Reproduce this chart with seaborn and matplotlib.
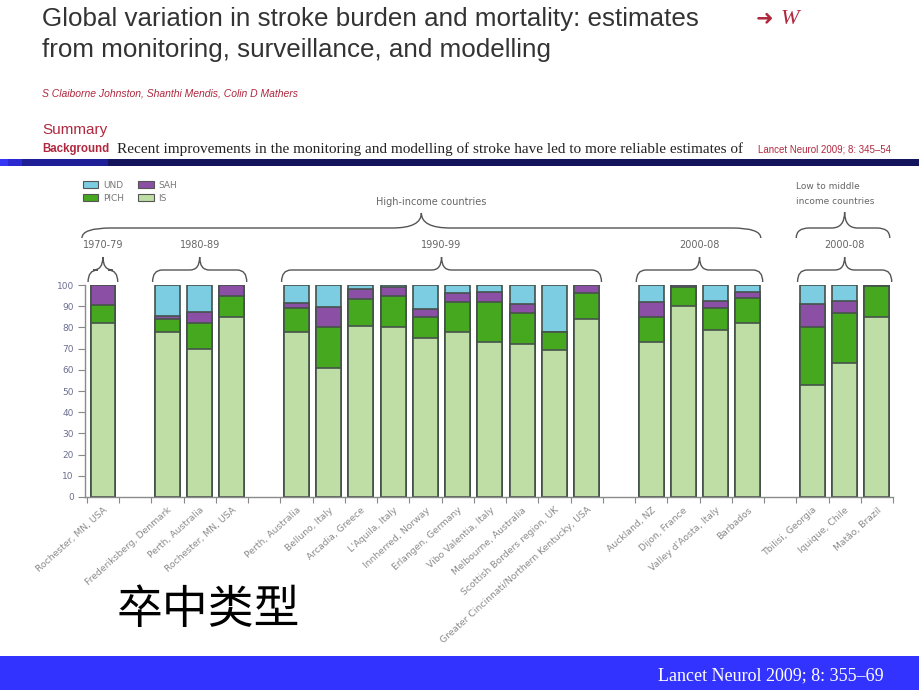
import numpy as np
import pandas as pd
import matplotlib
matplotlib.use("Agg")
import matplotlib.pyplot as plt
import seaborn as sns
from matplotlib.patches import Rectangle, PathPatch, Patch
from matplotlib.path import Path

# ---------------- data ----------------
sites = ["Rochester, MN, USA",
         "Frederiksberg, Denmark", "Perth, Australia", "Rochester, MN, USA",
         "Perth, Australia", "Belluno, Italy", "Arcadia, Greece", "L'Aquila, Italy",
         "Innherred, Norway", "Erlangen, Germany", "Vibo Valentia, Italy",
         "Melbourne, Australia", "Scottish Borders region, UK",
         "Greater Cincinnati/Northern Kentucky, USA",
         "Auckland, NZ", "Dijon, France", "Valley d'Aosta, Italy", "Barbados",
         "Tbilisi, Georgia", "Iquique, Chile", "Matão, Brazil"]
group_sizes = [1, 3, 10, 4, 3]
group_labels = ["1970-79", "1980-89", "1990-99", "2000-08", "2000-08"]
IS   = [82, 78, 70, 85, 78, 61, 80.5, 80, 75, 78, 73, 72, 69.5, 84, 73, 90, 79, 82, 53, 63, 85]
PICH = [8.5, 6, 12, 10, 11, 19, 13, 15, 10, 14, 19, 15, 8.5, 12, 12, 9, 10, 12, 27, 24, 14.5]
SAH  = [9.5, 1.5, 5.5, 5, 2.5, 9.5, 4.5, 4, 3.5, 4, 4.5, 4, 0, 4, 7, 1, 3.5, 2.5, 11, 5.5, 0.5]
UND  = [0, 14.5, 12.5, 0, 8.5, 10.5, 2, 1, 11.5, 4, 3.5, 9, 22, 0, 8, 0, 7.5, 3.5, 9, 7.5, 0]
yticks = list(range(0, 101, 10))

colors = {"UND": "#7ccde2", "SAH": "#8c4fa6", "PICH": "#45a81e", "IS": "#bfdea6"}
edge = "#45524a"

# slot positions: groups separated by one empty slot
pos = []
s = 0
group_spans = []
for g in group_sizes:
    group_spans.append((s, s + g - 1))
    pos.extend(range(s, s + g))
    s += g + 1
pos = np.array(pos, dtype=float)

df = pd.DataFrame({"pos": pos, "IS": IS, "PICH": PICH, "SAH": SAH, "UND": UND})
df["c_PICH"] = df["IS"] + df["PICH"]
df["c_SAH"] = df["c_PICH"] + df["SAH"]
df["c_UND"] = df["c_SAH"] + df["UND"]

# ---------------- figure ----------------
sns.set_style("white")
plt.rcParams["font.family"] = ["DejaVu Sans"]
W, H = 920, 690
fig = plt.figure(figsize=(9.2, 6.9), dpi=100)

def fx(x):
    return x / W

def fy(y):
    return 1 - y / H

narrow = ["Liberation Sans"]
red = "#b0283e"

# header (paper excerpt)
fig.text(fx(42), fy(19), "Global variation in stroke burden and mortality: estimates",
         family=narrow, fontsize=18.7, color="#333333", va="center", ha="left")
fig.text(fx(42), fy(50), "from monitoring, surveillance, and modelling",
         family=narrow, fontsize=18.7, color="#333333", va="center", ha="left")
fig.text(fx(42), fy(93), "S Claiborne Johnston, Shanthi Mendis, Colin D Mathers",
         family=narrow, fontsize=7.5, color=red, style="italic", va="center")
fig.text(fx(42), fy(130), "Summary", family=narrow, fontsize=11, color=red, va="center")
fig.text(fx(42), fy(149), "Background", family=narrow, fontsize=8.3, color=red,
         weight="bold", va="center")
fig.text(fx(117), fy(149),
         "Recent improvements in the monitoring and modelling of stroke have led to more reliable estimates of",
         family=["Liberation Serif"], fontsize=11, color="#222222", va="center")
fig.text(fx(758), fy(150), "Lancet Neurol 2009; 8: 345–54", family=narrow,
         fontsize=7, color=red, va="center")
fig.text(fx(756), fy(18), "➜", fontsize=15, color=red, va="center", weight="bold")
fig.text(fx(781), fy(19), "W", fontsize=16, color=red, va="center", style="italic",
         family=["Liberation Serif"])

# stripe
fig.add_artist(Rectangle((0, fy(166)), 1, 7 / H, transform=fig.transFigure,
                         color="#14145c", lw=0))
fig.add_artist(Rectangle((0, fy(166)), fx(108), 7 / H, transform=fig.transFigure,
                         color="#1e1e96", lw=0))
fig.add_artist(Rectangle((0, fy(166)), fx(22), 7 / H, transform=fig.transFigure,
                         color="#2a2ad0", lw=0))
fig.add_artist(Rectangle((0, fy(166)), fx(8), 7 / H, transform=fig.transFigure,
                         color="#3535f5", lw=0))

# ---------------- chart ----------------
ax = fig.add_axes([fx(85), fy(497), 808 / W, 212 / H])
layers = [("UND", "c_UND"), ("SAH", "c_SAH"), ("PICH", "c_PICH"), ("IS", "IS")]
for name, col in layers:
    sns.barplot(data=df, x="pos", y=col, native_scale=True, orient="x",
                color=colors[name], saturation=1, edgecolor=edge, linewidth=1.2,
                width=0.77, errorbar=None, ax=ax)

slot_px = 32.4
ax.set_xlim(-18 / slot_px, (893 - 103) / slot_px)
ax.set_ylim(0, 100)
ax.set_xlabel("")
ax.set_ylabel("")
ax.set_yticks(yticks)
ax.set_yticklabels([str(t) for t in yticks], fontsize=6.5, color="#6b6f8f")
ax.tick_params(axis="y", length=5, width=0.8, color="#888888", pad=3, left=True)
ax.set_xticks(pos)
ax.set_xticklabels(sites, rotation=42, ha="right", rotation_mode="anchor",
                   fontsize=6.7, color="#8a8a8a")
ax.tick_params(axis="x", which="major", length=0, pad=6)
ax.set_xticks(np.arange(-0.5, 25, 1.0), minor=True)
ax.tick_params(axis="x", which="minor", length=4, width=0.8, color="#888888",
               bottom=True)
for side in ["top", "right"]:
    ax.spines[side].set_visible(False)
for side in ["left", "bottom"]:
    ax.spines[side].set_color("#8a8a8a")
    ax.spines[side].set_linewidth(1.0)

def yv(ypx):
    return (497 - ypx) / 2.12

def brace(x0, x1, xc, yb, yl, yt, r):
    verts = [(x0, yb), (x0, yl), (x0 + r, yl), (xc - r, yl), (xc, yl), (xc, yt),
             (xc, yl), (xc + r, yl), (x1 - r, yl), (x1, yl), (x1, yb)]
    codes = [Path.MOVETO, Path.CURVE3, Path.CURVE3, Path.LINETO, Path.CURVE3,
             Path.CURVE3, Path.CURVE3, Path.CURVE3, Path.LINETO, Path.CURVE3,
             Path.CURVE3]
    ax.add_patch(PathPatch(Path(verts, codes), fill=False, edgecolor="#555555",
                           lw=1.0, clip_on=False))

txt_c = "#666666"
for (a, b), lab in zip(group_spans, group_labels):
    x0, x1 = a - 0.46, b + 0.46
    xc = (a + b) / 2
    brace(x0, x1, xc, yv(282), yv(270), yv(257), 0.3)
    ax.text(xc, yv(245), lab, ha="center", va="center", fontsize=7, color=txt_c,
            clip_on=False)

# income-level braces
hi_end = group_spans[3][1] + 0.4
brace(-0.65, hi_end, (-0.65 + hi_end) / 2, yv(238), yv(228), yv(213), 0.9)
ax.text((-0.65 + hi_end) / 2 + 0.3, yv(202), "High-income countries", ha="center",
        va="center", fontsize=7, color=txt_c, clip_on=False)
la, lb = group_spans[4]
brace(la - 0.5, lb + 0.4, (la + lb) / 2, yv(238), yv(228), yv(212), 0.4)
ax.text(la - 0.5, yv(186), "Low to middle", ha="left", va="center", fontsize=6.5,
        color=txt_c, clip_on=False)
ax.text(la - 0.5, yv(201), "income countries", ha="left", va="center", fontsize=6.5,
        color=txt_c, clip_on=False)

# legend
handles = [Patch(facecolor=colors[k], edgecolor="#555555", lw=0.8)
           for k in ["UND", "PICH", "SAH", "IS"]]
fig.legend(handles, ["UND", "PICH", "SAH", "IS"], ncol=2, loc="upper left",
           bbox_to_anchor=(fx(83), fy(181)), frameon=False, fontsize=6.5,
           labelcolor="#777777", handlelength=1.7, handleheight=0.8,
           columnspacing=1.6, labelspacing=0.45, handletextpad=0.5,
           borderaxespad=0, borderpad=0)

# slide text
fig.text(fx(117), fy(610), "卒中类型", family=["Noto Sans CJK SC", "DejaVu Sans"],
         fontsize=33, color="black", va="center", ha="left")

# bottom band
fig.add_artist(Rectangle((0, 0), 1, 34 / H, transform=fig.transFigure,
                         color="#3333ff", lw=0))
fig.text(fx(658), fy(676), "Lancet Neurol 2009; 8: 355–69",
         family=["Liberation Serif"], fontsize=13, color="white", va="center",
         ha="left")

fig.savefig("out.png", dpi=100)
